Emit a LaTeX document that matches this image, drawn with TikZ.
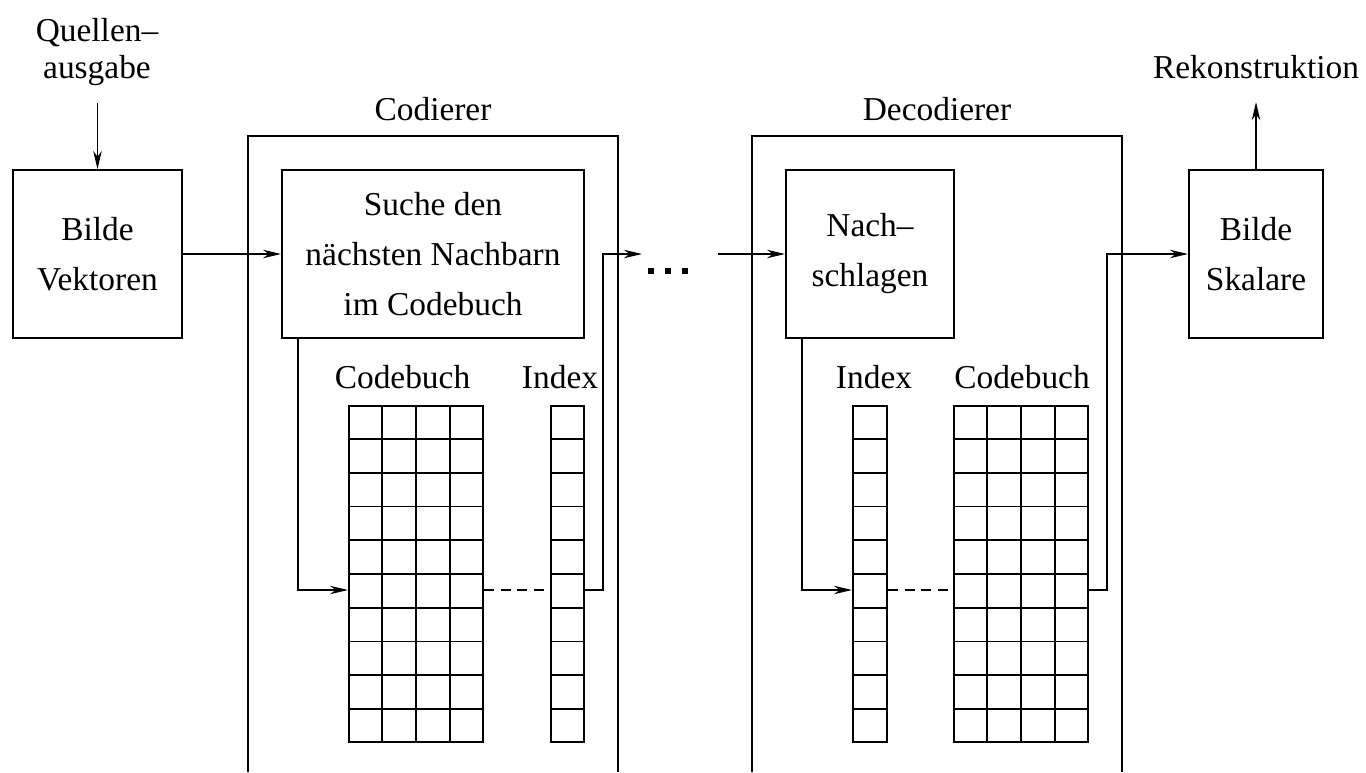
\documentclass[tikz,border=0pt]{standalone}
\usepackage{fontspec}
\setmainfont{Liberation Serif}
\usetikzlibrary{arrows.meta,calc}
\begin{document}
\begin{tikzpicture}[x=0.5pt,y=-0.5pt,line width=0.9pt,
  every node/.style={font=\fontsize{16.7}{25}\selectfont},
  blk/.style={draw,inner sep=0pt,align=center,minimum height=84pt},
  tbl/.style={draw,inner sep=0pt,minimum height=168pt},
  arr/.style={-{Stealth[length=9pt,width=4.2pt,inset=2.8pt]}},
  lbl/.style={anchor=base,inner sep=0pt},
  dsh/.style={dash pattern=on 5pt off 3.3pt}]
\useasboundingbox (0,0) rectangle (1366,772);

% blocks
\node[blk,minimum width=84.5pt] (vekt) at (97.5,254) {Bilde\\Vektoren};
\node[blk,minimum width=151pt] (such) at (433,254) {Suche den\\nächsten Nachbarn\\im Codebuch};
\node[blk,minimum width=84pt] (nach) at (870,254) {Nach–\\schlagen};
\node[blk,minimum width=67pt] (skal) at (1256,254) {Bilde\\Skalare};

% containers
\draw (248,772) -- (248,136) -- (618,136) -- (618,772);
\draw (752,772) -- (752,136) -- (1122,136) -- (1122,772);

% labels
\node[align=center,inner sep=0pt,font=\fontsize{16.7}{18.5}\selectfont] (quelle) at (97,52) {Quellen–\\ausgabe};
\node[lbl] (rek) at (1256,78) {Rekonstruktion};
\node[lbl] (codl) at (433,120) {Codierer};
\node[lbl] (decl) at (937,120) {Decodierer};
\node[lbl] (cbEl) at (402.5,388) {Codebuch};
\node[lbl] (ixEl) at (560,388) {Index};
\node[lbl] (ixDl) at (874,388) {Index};
\node[lbl] (cbDl) at (1022,388) {Codebuch};

% tables
\node[tbl,minimum width=67pt] (cbE) at (416,574) {};
\node[tbl,minimum width=16.75pt] (ixE) at (567.5,574) {};
\node[tbl,minimum width=17pt] (ixD) at (870,574) {};
\node[tbl,minimum width=67pt] (cbD) at (1021,574) {};
\foreach \t in {cbE,ixE,ixD,cbD}
  \foreach \j in {1,...,9}
    \draw ($(\t.north west)!\j/10!(\t.south west)$) -- ($(\t.north east)!\j/10!(\t.south east)$);
\foreach \t in {cbE,cbD}
  \foreach \i in {1,2,3}
    \draw ($(\t.north west)!\i/4!(\t.north east)$) -- ($(\t.south west)!\i/4!(\t.south east)$);

% dots
\fill (648,268) rectangle (654,274);
\fill (665,268) rectangle (671,274);
\fill (682,268) rectangle (688,274);

% connectors
\coordinate (qin) at (97.5,103);
\coordinate (rowy) at (0,590);
\coordinate (encout) at (642,254);
\coordinate (decin) at (718,254);
\draw[arr] (qin) -- (vekt.north);
\draw[arr] (vekt.east) -- (such.west);
\draw[arr] ([xshift=8.5pt]such.south west) |- (cbE.west |- rowy);
\draw[dsh] (cbE.east |- rowy) -- (ixE.west |- rowy);
\draw[arr] (ixE.east |- rowy) -- ++(18,0) |- (encout);
\draw[arr] (decin) -- (nach.west);
\draw[arr] ([xshift=8.5pt]nach.south west) |- (ixD.west |- rowy);
\draw[dsh] (ixD.east |- rowy) -- (cbD.west |- rowy);
\draw[arr] (cbD.east |- rowy) -- ++(18,0) |- (skal.west);
\draw[arr] (skal.north) -- ++(0,-67);
\end{tikzpicture}
\end{document}
